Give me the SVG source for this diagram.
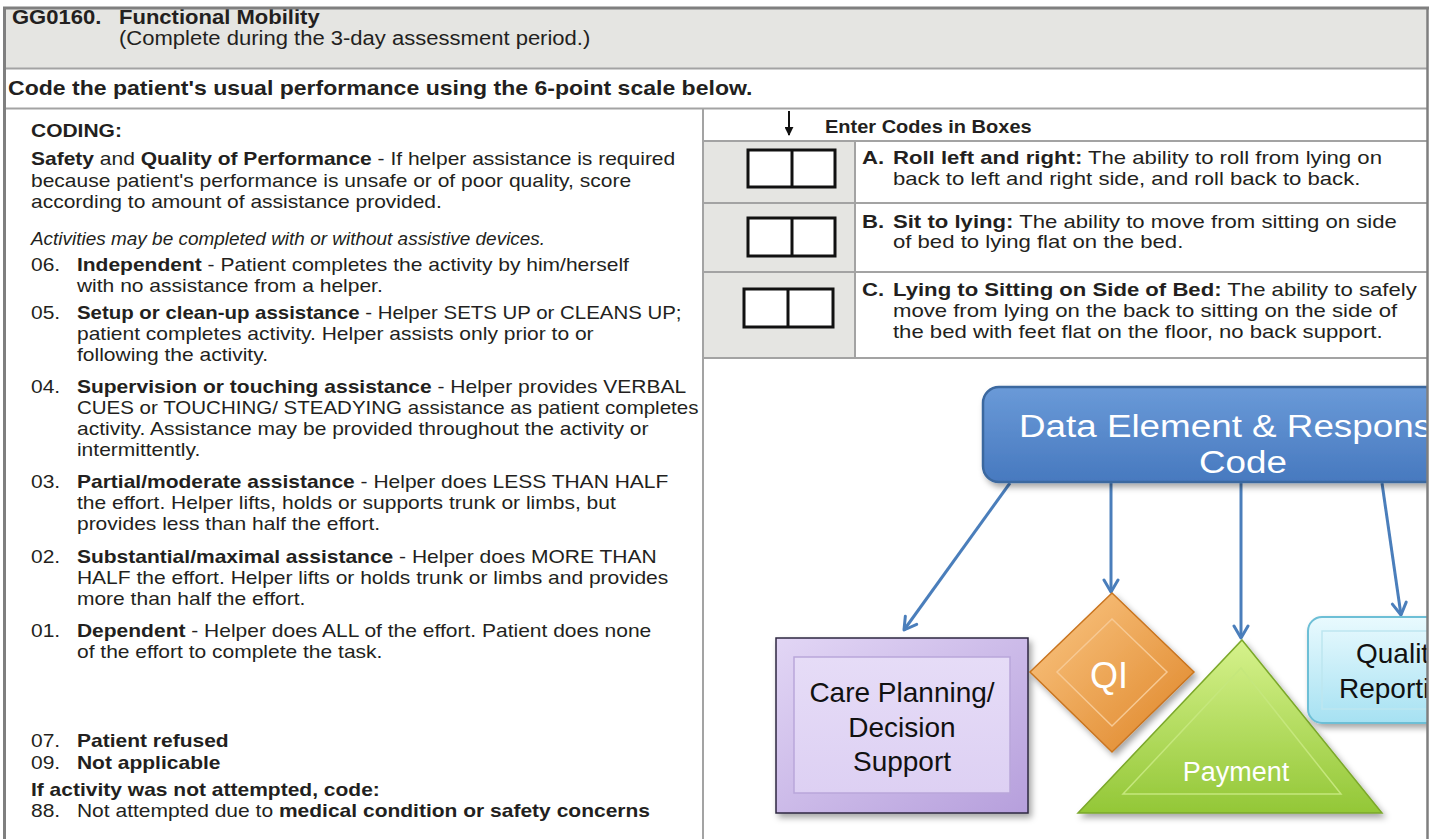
<svg xmlns="http://www.w3.org/2000/svg" width="1430" height="839" viewBox="0 0 1430 839">
<defs>
<style>
.t{font-family:"Liberation Sans",Arial,sans-serif;fill:#231f20}
.body{font-size:18.6px}
.b{font-weight:bold}
.i{font-style:italic}
.ln{stroke:#a3a3a3;stroke-width:2;fill:none}
.box{fill:#fff;stroke:#111;stroke-width:3}
.con{stroke:#4a7ebb;stroke-width:3;fill:none;marker-end:url(#ah)}
.dg{font-family:"Liberation Sans",Arial,sans-serif}
</style>
<marker id="ah" viewBox="0 0 16 18" refX="14" refY="9" markerWidth="16" markerHeight="18" markerUnits="userSpaceOnUse" orient="auto">
<path d="M2,2 L14,9 L2,16" fill="none" stroke="#4a7ebb" stroke-width="3" stroke-linecap="round" stroke-linejoin="round"/>
</marker>
<marker id="bk" viewBox="0 0 10 10" refX="9" refY="5" markerWidth="9" markerHeight="9" markerUnits="userSpaceOnUse" orient="auto">
<path d="M0,0 L10,5 L0,10 Z" fill="#111"/>
</marker>
<linearGradient id="gBlue" x1="0" y1="0" x2="0" y2="1"><stop offset="0" stop-color="#6a9ad8"/><stop offset="1" stop-color="#4779bf"/></linearGradient>
<linearGradient id="gPurple" x1="0" y1="0" x2="1" y2="1"><stop offset="0" stop-color="#e2d6f5"/><stop offset="1" stop-color="#b69fdc"/></linearGradient>
<linearGradient id="gPurpleIn" x1="0" y1="0" x2="0" y2="1"><stop offset="0" stop-color="#e6dcf7"/><stop offset="1" stop-color="#ddd0f3"/></linearGradient>
<linearGradient id="gOrange" x1="0" y1="0" x2="1" y2="1"><stop offset="0" stop-color="#fbc887"/><stop offset="1" stop-color="#de8426"/></linearGradient>
<linearGradient id="gGreen" x1="0" y1="0" x2="0" y2="1"><stop offset="0" stop-color="#d6f28c"/><stop offset="1" stop-color="#93c737"/></linearGradient>
<linearGradient id="gCyan" x1="0" y1="0" x2="0" y2="1"><stop offset="0" stop-color="#e9fafe"/><stop offset="1" stop-color="#a6e1f2"/></linearGradient>
<filter id="sh" x="-10%" y="-10%" width="130%" height="130%"><feDropShadow dx="3" dy="4" stdDeviation="3" flood-color="#000" flood-opacity="0.35"/></filter>
<clipPath id="clipD"><rect x="704" y="359" width="723" height="480"/></clipPath>
</defs>

<rect x="0" y="0" width="1430" height="839" fill="#fff"/>

<g id="frame">
<rect x="5" y="9" width="1422" height="59" fill="#e5e5e2"/>
<rect x="704" y="142" width="151" height="216" fill="#e5e5e2"/>
<line class="ln" x1="5" y1="68.5" x2="1427" y2="68.5"/>
<line class="ln" x1="5" y1="108.5" x2="1427" y2="108.5"/>
<line class="ln" x1="703" y1="108" x2="703" y2="839"/>
<line class="ln" x1="703" y1="141" x2="1427" y2="141"/>
<line class="ln" x1="703" y1="203" x2="1427" y2="203"/>
<line class="ln" x1="703" y1="272" x2="1427" y2="272"/>
<line class="ln" x1="703" y1="358" x2="1427" y2="358"/>
<line class="ln" x1="855" y1="141" x2="855" y2="358"/>
</g>

<g id="header" transform="scale(1.13,1)">
<text class="t b" x="10.6" y="24" font-size="19.5">GG0160.</text>
<text class="t b" x="105.3" y="24" font-size="19.5">Functional Mobility</text>
<text class="t" x="105.3" y="45" font-size="19.5">(Complete during the 3-day assessment period.)</text>
<text class="t b" x="7.1" y="95" font-size="20.4">Code the patient's usual performance using the 6-point scale below.</text>
</g>

<g id="coding" class="t body" transform="scale(1.13,1)">
<text x="27.4" y="137" class="b">CODING:</text>
<text x="27.4" y="165"><tspan class="b">Safety</tspan> and <tspan class="b">Quality of Performance</tspan> - If helper assistance is required</text>
<text x="27.4" y="187">because patient's performance is unsafe or of poor quality, score</text>
<text x="27.4" y="208">according to amount of assistance provided.</text>
<text x="27.4" y="245" class="i" textLength="455" lengthAdjust="spacingAndGlyphs">Activities may be completed with or without assistive devices.</text>
<text x="27.4" y="271">06.</text><text x="68.1" y="271"><tspan class="b">Independent</tspan> - Patient completes the activity by him/herself</text>
<text x="68.1" y="292">with no assistance from a helper.</text>
<text x="27.4" y="319">05.</text><text x="68.1" y="319" textLength="535" lengthAdjust="spacingAndGlyphs"><tspan class="b">Setup or clean-up assistance</tspan> - Helper SETS UP or CLEANS UP;</text>
<text x="68.1" y="340">patient completes activity. Helper assists only prior to or</text>
<text x="68.1" y="361">following the activity.</text>
<text x="27.4" y="393">04.</text><text x="68.1" y="393"><tspan class="b">Supervision or touching assistance</tspan> - Helper provides VERBAL</text>
<text x="68.1" y="414" textLength="550" lengthAdjust="spacingAndGlyphs">CUES or TOUCHING/ STEADYING assistance as patient completes</text>
<text x="68.1" y="435">activity. Assistance may be provided throughout the activity or</text>
<text x="68.1" y="456">intermittently.</text>
<text x="27.4" y="488">03.</text><text x="68.1" y="488"><tspan class="b">Partial/moderate assistance</tspan> - Helper does LESS THAN HALF</text>
<text x="68.1" y="509">the effort. Helper lifts, holds or supports trunk or limbs, but</text>
<text x="68.1" y="530">provides less than half the effort.</text>
<text x="27.4" y="563">02.</text><text x="68.1" y="563"><tspan class="b">Substantial/maximal assistance</tspan> - Helper does MORE THAN</text>
<text x="68.1" y="584">HALF the effort. Helper lifts or holds trunk or limbs and provides</text>
<text x="68.1" y="605">more than half the effort.</text>
<text x="27.4" y="637">01.</text><text x="68.1" y="637"><tspan class="b">Dependent</tspan>  - Helper does ALL of the effort. Patient does none</text>
<text x="68.1" y="658">of the effort to complete the task.</text>
<text x="27.4" y="747">07.</text><text x="68.1" y="747" class="b">Patient refused</text>
<text x="27.4" y="769">09.</text><text x="68.1" y="769" class="b">Not applicable</text>
<text x="27.4" y="796" class="b">If activity was not attempted, code:</text>
<text x="27.4" y="817">88.</text><text x="68.1" y="817">Not attempted due to <tspan class="b">medical condition or safety concerns</tspan></text>
</g>

<g id="enter-codes">
<line x1="789" y1="111" x2="789" y2="135" stroke="#111" stroke-width="2" marker-end="url(#bk)"/>
<text class="t b" x="730.1" y="133" font-size="17.7" transform="scale(1.13,1)">Enter Codes in Boxes</text>
</g>

<g id="item-a">
<rect class="box" x="748" y="150" width="87" height="37"/>
<line x1="792" y1="150" x2="792" y2="187" stroke="#111" stroke-width="3"/>
<g class="t body" transform="scale(1.19,1)">
<text x="724.4" y="164" class="b">A.</text>
<text x="750.4" y="164"><tspan class="b">Roll left and right:</tspan> The ability to roll from lying on</text>
<text x="750.4" y="185">back to left and right side, and roll back to back.</text>
</g>
</g>

<g id="item-b">
<rect class="box" x="748" y="218" width="87" height="38"/>
<line x1="792" y1="218" x2="792" y2="256" stroke="#111" stroke-width="3"/>
<g class="t body" transform="scale(1.19,1)">
<text x="724.4" y="228" class="b">B.</text>
<text x="750.4" y="228"><tspan class="b">Sit to lying:</tspan> The ability to move from sitting on side</text>
<text x="750.4" y="248">of bed to lying flat on the bed.</text>
</g>
</g>

<g id="item-c">
<rect class="box" x="744" y="289" width="89" height="38"/>
<line x1="788" y1="289" x2="788" y2="327" stroke="#111" stroke-width="3"/>
<g class="t body" transform="scale(1.19,1)">
<text x="724.4" y="296" class="b">C.</text>
<text x="750.4" y="296"><tspan class="b">Lying to Sitting on Side of Bed:</tspan> The ability to safely</text>
<text x="750.4" y="317">move from lying on the back to sitting on the side of</text>
<text x="750.4" y="338">the bed with feet flat on the floor, no back support.</text>
</g>
</g>

<g clip-path="url(#clipD)">
<g id="connectors">
<line class="con" x1="1010" y1="483" x2="904" y2="630"/>
<line class="con" x1="1111" y1="483" x2="1111" y2="592"/>
<line class="con" x1="1241" y1="483" x2="1241" y2="638"/>
<line class="con" x1="1382" y1="483" x2="1401" y2="615"/>
</g>

<g id="node-data-element">
<rect x="983" y="387" width="540" height="95" rx="16" fill="url(#gBlue)" stroke="#3b679f" stroke-width="2.5" filter="url(#sh)"/>
<text class="dg" x="1019" y="437" font-size="31" fill="#fff" textLength="413" lengthAdjust="spacingAndGlyphs">Data Element &amp; Respons</text>
<text class="dg" x="1199" y="473" font-size="31" fill="#fff" textLength="88" lengthAdjust="spacingAndGlyphs">Code</text>
</g>

<g id="node-care-planning">
<rect x="776" y="638" width="252" height="175" fill="url(#gPurple)" stroke="#2e2640" stroke-width="1.5" filter="url(#sh)"/>
<rect x="794" y="657" width="216" height="136" fill="url(#gPurpleIn)" stroke="#b9a6da" stroke-width="1.5"/>
<g class="dg" font-size="28" fill="#111" text-anchor="middle">
<text x="902" y="702">Care Planning/</text>
<text x="902" y="737">Decision</text>
<text x="902" y="771">Support</text>
</g>
</g>

<g id="node-qi">
<polygon points="1112,593 1194,672 1112,752 1030,672" fill="url(#gOrange)" stroke="#c9741f" stroke-width="1.5" filter="url(#sh)"/>
<polygon points="1112,619 1167,672 1112,726 1057,672" fill="none" stroke="#f7c993" stroke-width="1.5"/>
<text class="dg" x="1109" y="688" font-size="36" fill="#fff" text-anchor="middle">QI</text>
</g>

<g id="node-payment">
<polygon points="1242,640 1382,813 1078,813" fill="url(#gGreen)" stroke="#7ba82b" stroke-width="1.5" filter="url(#sh)"/>
<polygon points="1241,668 1341,794 1123,794" fill="none" stroke="#c5e77c" stroke-width="1.5"/>
<text class="dg" x="1236" y="781" font-size="27" fill="#fff" text-anchor="middle">Payment</text>
</g>

<g id="node-quality">
<rect x="1308" y="617" width="220" height="106" rx="14" fill="url(#gCyan)" stroke="#6dbfd6" stroke-width="2" filter="url(#sh)"/>
<rect x="1322" y="631" width="200" height="78" fill="none" stroke="#bde6f0" stroke-width="1.5"/>
<text class="dg" x="1356" y="663" font-size="28" fill="#111">Qualit</text>
<text class="dg" x="1339" y="698" font-size="28" fill="#111">Reporti</text>
</g>
</g>

<g id="outer-border">
<line x1="3" y1="8" x2="1429" y2="8" stroke="#7f7f7f" stroke-width="3"/>
<line x1="4.5" y1="7" x2="4.5" y2="839" stroke="#7f7f7f" stroke-width="3"/>
<line x1="1427.5" y1="7" x2="1427.5" y2="839" stroke="#7f7f7f" stroke-width="2.5"/>
</g>
</svg>
